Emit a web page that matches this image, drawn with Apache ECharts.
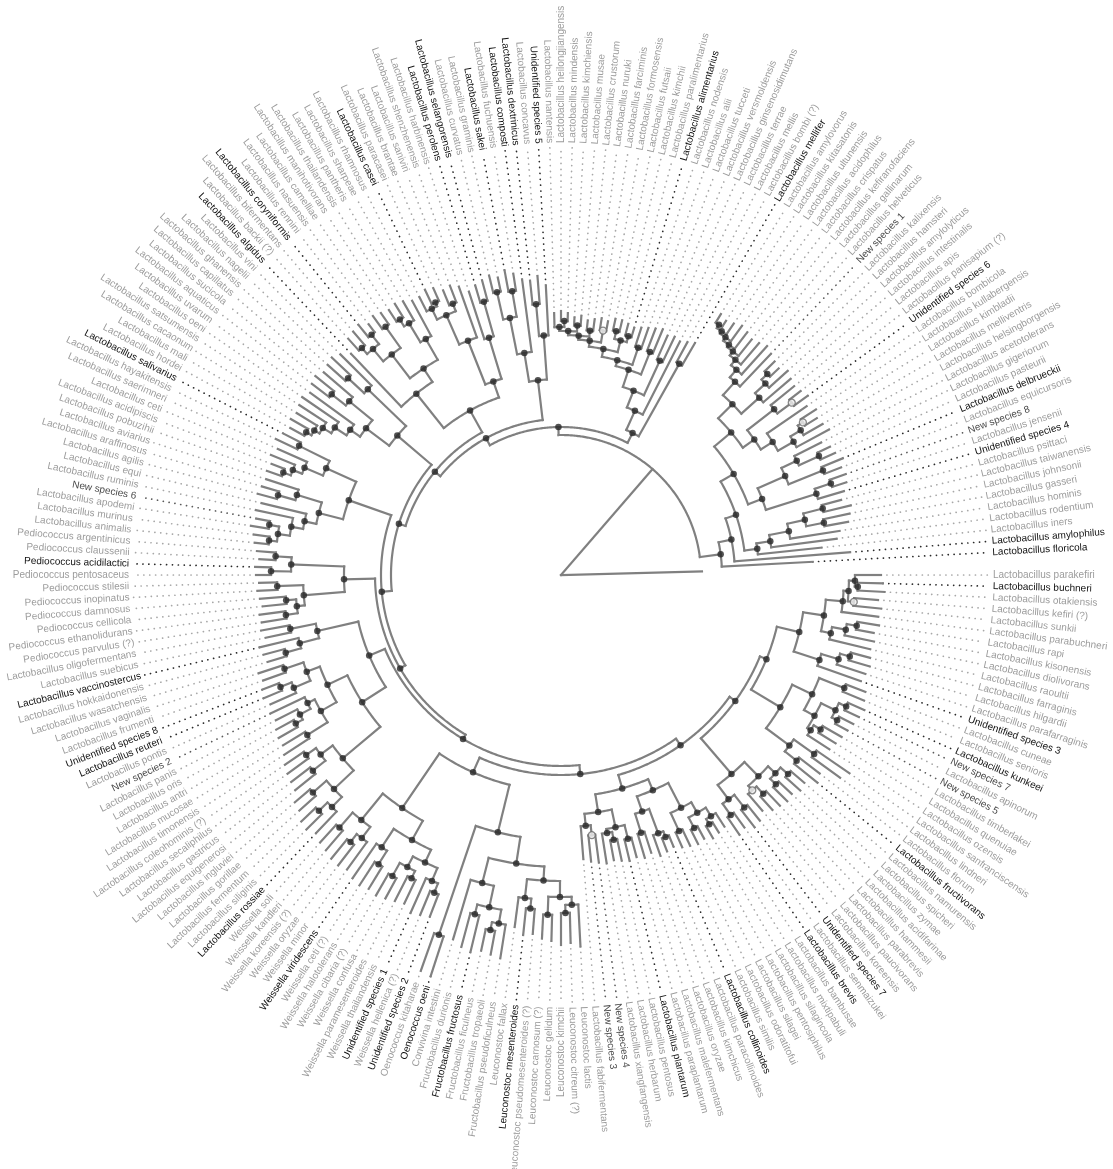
<!DOCTYPE html>
<html>
<head>
<meta charset="utf-8">
<title>Lactobacillaceae phylogeny</title>
<script src="https://cdn.jsdelivr.net/npm/echarts/dist/echarts.min.js"></script>
<style>
  html, body { margin: 0; padding: 0; background: #ffffff; }
  #chart { width: 1113px; height: 1169px; }
</style>
</head>
<body>
<div id="chart"></div>
<script>
// ---------------------------------------------------------------------------
// Tip labels, in tree order (counter-clockwise from the outgroup).
// ---------------------------------------------------------------------------
const speciesNames = [
  'Lactobacillus floricola', 'Lactobacillus amylophilus', 'Lactobacillus iners', 'Lactobacillus rodentium',
  'Lactobacillus hominis', 'Lactobacillus gasseri', 'Lactobacillus johnsonii', 'Lactobacillus taiwanensis',
  'Lactobacillus psittaci', 'Unidentified species 4', 'Lactobacillus jensenii', 'New species 8',
  'Lactobacillus equicursoris', 'Lactobacillus delbrueckii', 'Lactobacillus pasteurii', 'Lactobacillus gigeriorum',
  'Lactobacillus acetotolerans', 'Lactobacillus helsingborgensis', 'Lactobacillus melliventris', 'Lactobacillus kimbladii',
  'Lactobacillus kullabergensis', 'Lactobacillus bombicola', 'Unidentified species 6', 'Lactobacillus panisapium (?)',
  'Lactobacillus apis', 'Lactobacillus intestinalis', 'Lactobacillus amylolyticus', 'Lactobacillus hamsteri',
  'Lactobacillus kalixensis', 'New species 1', 'Lactobacillus helveticus', 'Lactobacillus gallinarum',
  'Lactobacillus kefiranofaciens', 'Lactobacillus crispatus', 'Lactobacillus acidophilus', 'Lactobacillus ultunensis',
  'Lactobacillus kitasatonis', 'Lactobacillus amylovorus', 'Lactobacillus mellifer', 'Lactobacillus bombi (?)',
  'Lactobacillus mellis', 'Lactobacillus terrae', 'Lactobacillus ginsenosidimutans', 'Lactobacillus versmoldensis',
  'Lactobacillus tucceti', 'Lactobacillus alii', 'Lactobacillus nodensis', 'Lactobacillus alimentarius',
  'Lactobacillus paralimentarius', 'Lactobacillus kimchii', 'Lactobacillus futsaii', 'Lactobacillus formosensis',
  'Lactobacillus farciminis', 'Lactobacillus nuruki', 'Lactobacillus crustorum', 'Lactobacillus musae',
  'Lactobacillus kimchiensis', 'Lactobacillus mindensis', 'Lactobacillus heilongjiangensis', 'Lactobacillus nantensis',
  'Unidentified species 5', 'Lactobacillus concavus', 'Lactobacillus dextrinicus', 'Lactobacillus composti',
  'Lactobacillus fuchuensis', 'Lactobacillus sakei', 'Lactobacillus graminis', 'Lactobacillus curvatus',
  'Lactobacillus selangorensis', 'Lactobacillus perolens', 'Lactobacillus harbinensis', 'Lactobacillus shenzhenensis',
  'Lactobacillus saniviri', 'Lactobacillus brantae', 'Lactobacillus paracasei', 'Lactobacillus casei',
  'Lactobacillus rhamnosus', 'Lactobacillus sharpeae', 'Lactobacillus pantheris', 'Lactobacillus thailandensis',
  'Lactobacillus manihotivorans', 'Lactobacillus camelliae', 'Lactobacillus nasuensis', 'Lactobacillus rennini',
  'Lactobacillus coryniformis', 'Lactobacillus bifermentans', 'Lactobacillus backii (?)', 'Lactobacillus algidus',
  'Lactobacillus vini', 'Lactobacillus nagelii', 'Lactobacillus ghanensis', 'Lactobacillus capillatus',
  'Lactobacillus sucicola', 'Lactobacillus aquaticus', 'Lactobacillus uvarum', 'Lactobacillus oeni',
  'Lactobacillus satsumensis', 'Lactobacillus cacaonum', 'Lactobacillus mali', 'Lactobacillus hordei',
  'Lactobacillus salivarius', 'Lactobacillus hayakitensis', 'Lactobacillus saerimneri', 'Lactobacillus ceti',
  'Lactobacillus acidipiscis', 'Lactobacillus pobuzihii', 'Lactobacillus aviarius', 'Lactobacillus araffinosus',
  'Lactobacillus agilis', 'Lactobacillus equi', 'Lactobacillus ruminis', 'New species 6',
  'Lactobacillus apodemi', 'Lactobacillus murinus', 'Lactobacillus animalis', 'Pediococcus argentinicus',
  'Pediococcus claussenii', 'Pediococcus acidilactici', 'Pediococcus pentosaceus', 'Pediococcus stilesii',
  'Pediococcus inopinatus', 'Pediococcus damnosus', 'Pediococcus cellicola', 'Pediococcus ethanolidurans',
  'Pediococcus parvulus (?)', 'Lactobacillus oligofermentans', 'Lactobacillus suebicus', 'Lactobacillus vaccinostercus',
  'Lactobacillus hokkaidonensis', 'Lactobacillus wasatchensis', 'Lactobacillus vaginalis', 'Lactobacillus frumenti',
  'Unidentified species 8', 'Lactobacillus reuteri', 'Lactobacillus pontis', 'New species 2',
  'Lactobacillus panis', 'Lactobacillus oris', 'Lactobacillus antri', 'Lactobacillus mucosae',
  'Lactobacillus timonensis', 'Lactobacillus coleohominis (?)', 'Lactobacillus secaliphilus', 'Lactobacillus gastricus',
  'Lactobacillus equigenerosi', 'Lactobacillus ingluviei', 'Lactobacillus gorillae', 'Lactobacillus fermentum',
  'Lactobacillus siliginis', 'Lactobacillus rossiae', 'Weissella soli', 'Weissella kandleri',
  'Weissella koreensis (?)', 'Weissella oryzae', 'Weissella minor', 'Weissella viridescens',
  'Weissella ceti (?)', 'Weissella halotolerans', 'Weissella cibaria (?)', 'Weissella confusa',
  'Weissella paramesenteroides', 'Weissella thailandensis', 'Unidentified species 1', 'Weissella hellenica (?)',
  'Unidentified species 2', 'Oenococcus kitaharae', 'Oenococcus oeni', 'Convivina intestini',
  'Fructobacillus durionis', 'Fructobacillus fructosus', 'Fructobacillus ficulneus', 'Fructobacillus tropaeoli',
  'Fructobacillus pseudoficulneus', 'Leuconostoc fallax', 'Leuconostoc mesenteroides', 'Leuconostoc pseudomesenteroides (?)',
  'Leuconostoc carnosum (?)', 'Leuconostoc gelidum', 'Leuconostoc kimchii', 'Leuconostoc citreum (?)',
  'Leuconostoc lactis', 'Lactobacillus fabifermentans', 'New species 3', 'New species 4',
  'Lactobacillus xiangfangensis', 'Lactobacillus herbarum', 'Lactobacillus pentosus', 'Lactobacillus plantarum',
  'Lactobacillus paraplantarum', 'Lactobacillus malefermentans', 'Lactobacillus oryzae', 'Lactobacillus kimchicus',
  'Lactobacillus paracollinoides', 'Lactobacillus collinoides', 'Lactobacillus similis', 'Lactobacillus odoratitofui',
  'Lactobacillus silagei', 'Lactobacillus pentosiphilus', 'Lactobacillus silagincola', 'Lactobacillus mixtipabuli',
  'Lactobacillus bambusae', 'Lactobacillus brevis', 'Lactobacillus senmaizukei', 'Unidentified species 7',
  'Lactobacillus koreensis', 'Lactobacillus paucivorans', 'Lactobacillus parabrevis', 'Lactobacillus hammesii',
  'Lactobacillus acidifarinae', 'Lactobacillus zymae', 'Lactobacillus spicheri', 'Lactobacillus namurensis',
  'Lactobacillus fructivorans', 'Lactobacillus florum', 'Lactobacillus lindneri', 'Lactobacillus sanfranciscensis',
  'Lactobacillus ozensis', 'Lactobacillus quenuiae', 'Lactobacillus timberlakei', 'New species 5',
  'Lactobacillus apinorum', 'New species 7', 'Lactobacillus kunkeei', 'Lactobacillus senioris',
  'Lactobacillus cuneae', 'Unidentified species 3', 'Lactobacillus parafarraginis', 'Lactobacillus hilgardii',
  'Lactobacillus farraginis', 'Lactobacillus raoultii', 'Lactobacillus diolivorans', 'Lactobacillus kisonensis',
  'Lactobacillus rapi', 'Lactobacillus parabuchneri', 'Lactobacillus sunkii', 'Lactobacillus kefiri (?)',
  'Lactobacillus otakiensis', 'Lactobacillus buchneri', 'Lactobacillus parakefiri'
];

// Tips printed in black (type species and unidentified isolates).
const highlightedSpecies = [
  'Lactobacillus floricola', 'Lactobacillus amylophilus', 'Unidentified species 4', 'Lactobacillus delbrueckii',
  'Unidentified species 6', 'Lactobacillus mellifer', 'Lactobacillus alimentarius', 'Unidentified species 5',
  'Lactobacillus dextrinicus', 'Lactobacillus composti', 'Lactobacillus sakei', 'Lactobacillus selangorensis',
  'Lactobacillus perolens', 'Lactobacillus casei', 'Lactobacillus coryniformis', 'Lactobacillus algidus',
  'Lactobacillus salivarius', 'Pediococcus acidilactici', 'Lactobacillus vaccinostercus', 'Unidentified species 8',
  'Lactobacillus reuteri', 'Lactobacillus rossiae', 'Weissella viridescens', 'Unidentified species 1',
  'Unidentified species 2', 'Oenococcus oeni', 'Fructobacillus fructosus', 'Leuconostoc mesenteroides',
  'Lactobacillus plantarum', 'Lactobacillus collinoides', 'Lactobacillus brevis', 'Unidentified species 7',
  'Lactobacillus fructivorans', 'Lactobacillus kunkeei', 'Unidentified species 3', 'Lactobacillus buchneri'
];

// New isolates, printed in dark grey.
const newSpecies = [
  'New species 1', 'New species 2', 'New species 3', 'New species 4',
  'New species 5', 'New species 6', 'New species 7', 'New species 8'
];

// ---------------------------------------------------------------------------
// Topology.  Tips are "index:depth" (index into speciesNames, 1-based;
// 0 is the unlabelled outgroup), clades are "(...)depth" where depth is the
// distance from the root.  A trailing * marks a well supported node,
// a trailing o a moderately supported node.
// ---------------------------------------------------------------------------
const cladeDelbrueckii = '(' +
  '(3:262,(4:278,(5:282,((6:292,7:295)268*,(8:298,9:290)270*)250*)232*)212*)198*,' +
  '(((10:295,(11:300,12:302)285*)268*,((13:300,14:305)282*,((15:300,16:298)284*,17:292)262*)245*)215*,' +
  '((((18:305,(19:302,(20:300,21:304)286o)280*)268*,22:298)250*,((23:305,24:302)288o,25:300)270*)236*,' +
  '((26:302,(27:305,(28:300,29:302)288*)280*)266*,(30:305,(31:308,(32:305,(33:303,(34:306,(35:308,(36:305,(37:303,38:306)296*)292*)289*)285*)282*)277*)270*)260*)242*)222*)200*' +
  ')185*';

const cladeAlimentarius =
  '((39:268,40:265)242*,(41:262,((42:264,43:262)236*,((44:266,45:264)240*,' +
  '((46:262,47:260)240*,(((48:258,49:260)248*,(50:262,51:262)250*)242*,((52:258,53:260)248o,((54:258,55:256)246*,((56:260,57:258)250*,((58:262,59:264)254*,60:262)248*)244*)240*)236*)230*)222*' +
  ')216*)198*)180*)159*';

const cladeSakei =
  '((61:290,(62:300,63:296)272*)240*,(64:298,((65:305,66:310)288*,(67:304,68:308)290*)262*)225*)196*';

const cladeCasei = '(' +
  '(((69:305,70:302)284*,71:298)248*,(72:306,((73:310,74:308)292*,((75:314,76:316)300*,77:312)296*)284*)252*)205*,' +
  '(((78:312,(79:316,(80:318,81:316)302*)294*)272*,((82:318,83:320)304*,((84:316,85:322)306*,(86:320,87:318)302*)294*)278*)248*,88:305)232*' +
  ')188*';

const cladeVini =
  '((89:312,(90:316,91:314)290*)268*,((92:312,(93:316,94:314)292*)274*,(95:310,(96:314,(97:312,(98:310,(99:312,100:308)292*)286*)280*)270*)256*)244*)215*';

const cladeSalivarius =
  '(((101:312,102:316)292*,(103:310,(104:314,(105:310,106:312)296*)288*)278*)258*,((107:310,(108:312,109:314)294*)276*,(110:308,(111:312,((112:310,113:314)296*,(114:310,115:308)294*)286*)274*)262*)250*)225*';

const cladePediococcus =
  '(((116:305,117:302)286*,(118:306,119:305)290*)270*,((120:302,121:304)284*,((122:302,123:300)276*,(124:304,125:303)278*)266*)258*)217*';

const cladeReuteri = '(' +
  '((126:305,127:302)276*,(128:310,(129:308,130:306)286*)270*)250*,(' +
  '(((131:318,132:316)292*,((133:320,134:322)302*,135:318)290*)272*,((136:322,(137:320,(138:324,139:326)304*)296*)284*,(140:326,141:330)300*)276*)258*,' +
  '(((142:335,143:338)312*,(144:340,145:342)316*)300*,((146:350,147:352)330*,((148:358,149:360)338*,150:356)326*)312*)285*' +
  ')236*)208*';

const cladeLeuconostocaceae = '(' +
  '(((151:360,152:362)336*,((153:365,154:366)340*,155:364)330*)316*,((156:368,(157:370,158:368)342*)326*,(((159:370,160:368)345*,(161:366,162:364)338*)330*,(163:370,(164:368,165:366)342*)332*)318*)304*)282*,' +
  '((166:420,167:422)380*,(' +
  '(168:380,((169:385,170:388)350*,((171:384,172:386)362*,173:388)354*)340*)318*,' +
  '((174:355,(175:362,176:360)335*)325*,((177:364,178:366)340*,((179:370,180:368)338*,181:372)330*)322*)306*' +
  ')292*)265*)216*';

const cladePlantarum = '(' +
  '((182:285,(183:288,184:290)262o)252*,((185:292,(186:290,187:292)270*)262*,(188:294,189:292)272*)258*)240*,(' +
  '((190:295,191:292)270*,(192:298,(193:296,194:294)282*)276*)250*,' +
  '((195:298,196:300)282*,((197:302,198:300)286*,((199:304,200:302)290*,201:300)284*)274*)262*' +
  ')234*)222*';

const cladeBrevis =
  '(((202:315,203:312)294*,(204:318,205:316)296*)280*,((206:310,(207:316,208:318)298*)288o,((209:320,210:318)300*,(211:322,212:320)302*)292*)282*)262*';

const cladeKunkeei =
  '(((213:330,214:326)300*,(215:345,216:350)310*)285*,(((217:320,(218:322,219:324)302*)294*,((220:326,221:328)312*,(222:330,223:332)314*)306*)290*,(224:328,225:326)305*)278*)256*';

const cladeBuchneri =
  '((226:318,(227:320,(228:322,229:320)300*)290*)272*,((230:318,(231:320,(232:318,233:322)300*)290*)276*,(234:320,((235:322,236:318)294o,((237:324,238:322)297*,239:320)294*)288*)283*)266*)245*';

const outgroup = '0:141';

const treeTopology =
  `(${outgroup},((1:252,(2:290,${cladeDelbrueckii})174*)161*,` +
  `(${cladeAlimentarius},(${cladeSakei},(${cladeCasei},(${cladeVini},(${cladeSalivarius},(${cladePediococcus},` +
  `(${cladeReuteri},(${cladeLeuconostocaceae},(${cladePlantarum},(${cladeBrevis},(${cladeKunkeei},${cladeBuchneri})` +
  `222*)215*)208*)200*)191*)186*)180*)170*)163*)156*)148*)140)0`;

// ---------------------------------------------------------------------------
// Parsing and circular layout (node angle = mean of child angles).
// ---------------------------------------------------------------------------
function parseTree(text) {
  const s = text.replace(/\s+/g, '');
  let i = 0;
  function readNumber() {
    const m = /^\d+(\.\d+)?/.exec(s.slice(i));
    i += m[0].length;
    return +m[0];
  }
  function readNode() {
    if (s[i] === '(') {
      i++;
      const kids = [readNode()];
      while (s[i] === ',') { i++; kids.push(readNode()); }
      i++; // ')'
      const depth = readNumber();
      let support = null;
      if (s[i] === '*' || s[i] === 'o') support = s[i++];
      return { kids, depth, support };
    }
    const leaf = readNumber();
    i++; // ':'
    return { leaf, depth: readNumber() };
  }
  return readNode();
}

const tree = parseTree(treeTopology);
const slotCount = speciesNames.length + 1;
const angleStep = 360 / slotCount;

function placeAngles(node) {
  if (node.kids) {
    node.kids.forEach(placeAngles);
    node.theta = node.kids.reduce((a, k) => a + k.theta, 0) / node.kids.length;
  } else {
    node.theta = angleStep * (node.leaf + 1);
  }
}
placeAngles(tree);

const branchSegments = [];   // {kind:'radial'|'arc', ...}
const strongNodes = [];
const weakNodes = [];
const tips = [];

function collect(node, parentDepth) {
  branchSegments.push({ kind: 'radial', r0: parentDepth, r1: node.depth, theta: node.theta });
  if (node.kids) {
    const th = node.kids.map(k => k.theta);
    branchSegments.push({ kind: 'arc', r: node.depth, a0: Math.min(...th), a1: Math.max(...th) });
    if (node.support === '*') strongNodes.push([node.depth, node.theta]);
    if (node.support === 'o') weakNodes.push([node.depth, node.theta]);
    node.kids.forEach(k => collect(k, node.depth));
  } else if (node.leaf > 0) {
    tips.push({ name: speciesNames[node.leaf - 1], depth: node.depth, theta: node.theta });
  }
}
tree.kids.forEach(k => collect(k, tree.depth));

// ---------------------------------------------------------------------------
// Styling helpers
// ---------------------------------------------------------------------------
const LABEL_RADIUS = 432;
const GUIDE_END = 428;
const BRANCH_COLOR = '#808080';

function tipStyle(name) {
  if (highlightedSpecies.includes(name)) return { text: '#111111', guide: '#2a2a2a' };
  if (newSpecies.includes(name)) return { text: '#4a4a4a', guide: '#5a5a5a' };
  return { text: '#9c9c9c', guide: '#a8a8a8' };
}

const chart = echarts.init(document.getElementById('chart'), null, { renderer: 'canvas' });

const option = {
  backgroundColor: '#ffffff',
  animation: false,
  polar: { center: [561, 575], radius: 440 },
  angleAxis: { type: 'value', min: 0, max: 360, startAngle: 0, clockwise: false, show: false },
  radiusAxis: { type: 'value', min: 0, max: 440, show: false },
  series: [
    {
      // dotted guides from each tip out to its label
      type: 'custom',
      coordinateSystem: 'polar',
      silent: true,
      z: 1,
      dimensions: ['radius', 'angle'],
      encode: { radius: 0, angle: 1 },
      data: tips.map(t => [t.depth, t.theta]),
      renderItem: function (params, api) {
        const t = tips[params.dataIndex];
        const p0 = api.coord([t.depth, t.theta]);
        const p1 = api.coord([GUIDE_END, t.theta]);
        return {
          type: 'line',
          shape: { x1: p0[0], y1: p0[1], x2: p1[0], y2: p1[1] },
          style: { stroke: tipStyle(t.name).guide, lineWidth: 1.7, lineDash: [0.1, 5.8], lineCap: 'round' }
        };
      }
    },
    {
      // branches: radial segments and arcs
      type: 'custom',
      coordinateSystem: 'polar',
      silent: true,
      z: 2,
      dimensions: ['radius', 'angle'],
      encode: { radius: 0, angle: 1 },
      data: branchSegments.map(s => s.kind === 'radial' ? [s.r1, s.theta] : [s.r, (s.a0 + s.a1) / 2]),
      renderItem: function (params, api) {
        const s = branchSegments[params.dataIndex];
        const style = { stroke: BRANCH_COLOR, lineWidth: 2.2, fill: 'none', lineCap: 'square', lineJoin: 'miter' };
        if (s.kind === 'radial') {
          const p0 = api.coord([s.r0, s.theta]);
          const p1 = api.coord([s.r1, s.theta]);
          return { type: 'line', shape: { x1: p0[0], y1: p0[1], x2: p1[0], y2: p1[1] }, style: style };
        }
        const n = Math.max(2, Math.ceil((s.a1 - s.a0) / 0.5) + 1);
        const pts = [];
        for (let j = 0; j < n; j++) {
          pts.push(api.coord([s.r, s.a0 + (s.a1 - s.a0) * j / (n - 1)]));
        }
        return { type: 'polyline', shape: { points: pts }, style: style };
      }
    },
    {
      type: 'scatter',
      coordinateSystem: 'polar',
      silent: true,
      z: 3,
      symbol: 'circle',
      symbolSize: 6.5,
      itemStyle: { color: '#262626' },
      data: strongNodes
    },
    {
      type: 'scatter',
      coordinateSystem: 'polar',
      silent: true,
      z: 3,
      symbol: 'circle',
      symbolSize: 7,
      itemStyle: { color: '#eeeeee', borderColor: '#6a6a6a', borderWidth: 1.3 },
      data: weakNodes
    },
    {
      // tip labels, rotated along their radius
      type: 'custom',
      coordinateSystem: 'polar',
      silent: true,
      z: 4,
      dimensions: ['radius', 'angle'],
      encode: { radius: 0, angle: 1 },
      data: tips.map(t => [LABEL_RADIUS, t.theta]),
      renderItem: function (params, api) {
        const t = tips[params.dataIndex];
        const p = api.coord([LABEL_RADIUS, t.theta]);
        const flip = t.theta > 90 && t.theta <= 270;
        const rot = (flip ? t.theta - 180 : t.theta) * Math.PI / 180;
        return {
          type: 'text',
          x: p[0],
          y: p[1],
          rotation: rot,
          style: {
            text: t.name,
            fill: tipStyle(t.name).text,
            font: '10px "Liberation Sans", Arial, sans-serif',
            align: flip ? 'right' : 'left',
            verticalAlign: 'middle'
          }
        };
      }
    }
  ]
};

chart.setOption(option);
</script>
</body>
</html>
